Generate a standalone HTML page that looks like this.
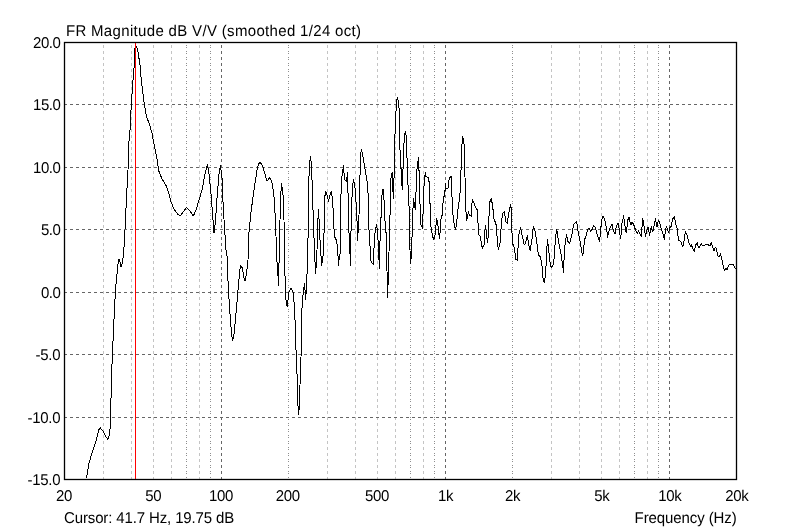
<!DOCTYPE html>
<html><head><meta charset="utf-8"><title>FR Magnitude</title>
<style>
html,body{margin:0;padding:0;background:#fff;}
body{width:800px;height:530px;position:relative;overflow:hidden;}
svg{position:absolute;left:0;top:0;will-change:transform;}
text{font-family:"Liberation Sans",sans-serif;font-size:15px;fill:#000;text-rendering:geometricPrecision;}
</style></head><body>
<svg width="800" height="530" viewBox="0 0 800 530">
<line x1="103.5" y1="45" x2="103.5" y2="479" stroke="#c4c4c4" stroke-dasharray="3 3"/>
<line x1="131.5" y1="45" x2="131.5" y2="479" stroke="#c4c4c4" stroke-dasharray="3 3"/>
<line x1="153.5" y1="45" x2="153.5" y2="479" stroke="#c4c4c4" stroke-dasharray="3 3"/>
<line x1="171.5" y1="45" x2="171.5" y2="479" stroke="#c4c4c4" stroke-dasharray="3 3"/>
<line x1="186.5" y1="45" x2="186.5" y2="479" stroke="#8e8e8e" stroke-dasharray="1 1 1 3"/>
<line x1="199.5" y1="45" x2="199.5" y2="479" stroke="#c4c4c4" stroke-dasharray="3 3"/>
<line x1="210.5" y1="45" x2="210.5" y2="479" stroke="#8e8e8e" stroke-dasharray="1 1 1 3"/>
<line x1="221.5" y1="45" x2="221.5" y2="479" stroke="#666666" stroke-dasharray="3 3"/>
<line x1="288.5" y1="45" x2="288.5" y2="479" stroke="#8e8e8e" stroke-dasharray="1 1 1 3"/>
<line x1="327.5" y1="45" x2="327.5" y2="479" stroke="#c4c4c4" stroke-dasharray="3 3"/>
<line x1="355.5" y1="45" x2="355.5" y2="479" stroke="#c4c4c4" stroke-dasharray="3 3"/>
<line x1="377.5" y1="45" x2="377.5" y2="479" stroke="#c4c4c4" stroke-dasharray="3 3"/>
<line x1="395.5" y1="45" x2="395.5" y2="479" stroke="#c4c4c4" stroke-dasharray="3 3"/>
<line x1="410.5" y1="45" x2="410.5" y2="479" stroke="#8e8e8e" stroke-dasharray="1 1 1 3"/>
<line x1="423.5" y1="45" x2="423.5" y2="479" stroke="#c4c4c4" stroke-dasharray="3 3"/>
<line x1="434.5" y1="45" x2="434.5" y2="479" stroke="#8e8e8e" stroke-dasharray="1 1 1 3"/>
<line x1="445.5" y1="45" x2="445.5" y2="479" stroke="#666666" stroke-dasharray="3 3"/>
<line x1="512.5" y1="45" x2="512.5" y2="479" stroke="#8e8e8e" stroke-dasharray="1 1 1 3"/>
<line x1="551.5" y1="45" x2="551.5" y2="479" stroke="#c4c4c4" stroke-dasharray="3 3"/>
<line x1="579.5" y1="45" x2="579.5" y2="479" stroke="#c4c4c4" stroke-dasharray="3 3"/>
<line x1="601.5" y1="45" x2="601.5" y2="479" stroke="#c4c4c4" stroke-dasharray="3 3"/>
<line x1="619.5" y1="45" x2="619.5" y2="479" stroke="#c4c4c4" stroke-dasharray="3 3"/>
<line x1="634.5" y1="45" x2="634.5" y2="479" stroke="#8e8e8e" stroke-dasharray="1 1 1 3"/>
<line x1="647.5" y1="45" x2="647.5" y2="479" stroke="#c4c4c4" stroke-dasharray="3 3"/>
<line x1="658.5" y1="45" x2="658.5" y2="479" stroke="#8e8e8e" stroke-dasharray="1 1 1 3"/>
<line x1="669.5" y1="45" x2="669.5" y2="479" stroke="#666666" stroke-dasharray="3 3"/>
<line x1="64" y1="104.5" x2="736" y2="104.5" stroke="#666666" stroke-dasharray="3 3"/>
<line x1="64" y1="167.5" x2="736" y2="167.5" stroke="#666666" stroke-dasharray="3 3"/>
<line x1="64" y1="229.5" x2="736" y2="229.5" stroke="#666666" stroke-dasharray="3 3"/>
<line x1="64" y1="292.5" x2="736" y2="292.5" stroke="#666666" stroke-dasharray="3 3"/>
<line x1="64" y1="354.5" x2="736" y2="354.5" stroke="#666666" stroke-dasharray="3 3"/>
<line x1="64" y1="417.5" x2="736" y2="417.5" stroke="#666666" stroke-dasharray="3 3"/>
<path d="M86.4,478.4 L89.0,463.0 L92.0,453.0 L96.0,441.0 L99.0,429.5 L100.4,428.0 L103.0,431.0 L106.0,437.0 L108.0,439.5 L109.6,434.0 L110.4,424.0 L110.8,406.0 L111.6,374.0 L112.4,354.0 L113.6,328.0 L114.6,306.0 L115.6,288.0 L117.6,268.0 L118.4,261.0 L119.0,259.0 L120.0,262.0 L121.0,267.0 L122.0,264.0 L123.6,254.0 L125.0,230.0 L126.0,208.0 L127.0,188.0 L128.0,170.0 L128.4,148.0 L130.0,130.0 L131.2,106.0 L133.0,80.0 L133.8,76.0 L134.2,61.0 L134.8,49.2 L136.0,45.6 L137.2,48.8 L138.5,54.0 L139.4,62.0 L140.6,68.5 L140.9,76.0 L142.0,86.0 L144.0,102.0 L146.4,116.0 L150.0,126.0 L152.0,133.0 L154.0,144.0 L156.4,156.0 L157.6,162.0 L158.4,170.0 L162.0,179.0 L166.4,186.0 L169.0,194.0 L171.0,202.0 L174.0,209.0 L178.0,214.4 L180.4,216.0 L183.0,212.0 L186.6,207.6 L190.0,211.0 L193.4,216.0 L196.0,210.0 L199.0,200.0 L202.0,190.0 L205.0,174.0 L207.4,164.4 L209.0,174.0 L211.0,194.0 L212.4,212.0 L214.0,233.0 L215.4,222.0 L217.0,198.0 L219.0,174.0 L220.5,165.6 L222.0,178.0 L223.0,202.0 L224.4,226.0 L226.0,250.0 L227.0,256.0 L228.4,290.0 L230.0,314.0 L231.4,332.0 L232.6,341.0 L234.0,334.0 L235.6,318.0 L237.0,302.0 L238.4,286.0 L239.6,272.0 L240.6,265.6 L242.4,268.0 L244.0,278.0 L245.2,281.0 L246.4,274.0 L248.0,260.0 L249.0,232.0 L251.0,212.0 L254.0,190.0 L257.0,170.0 L258.6,164.0 L260.0,162.4 L261.6,164.0 L263.0,167.0 L265.0,174.0 L266.4,180.0 L268.0,180.4 L269.6,177.6 L271.6,181.0 L273.6,192.0 L274.5,203.0 L275.5,222.0 L276.3,245.0 L277.0,262.0 L278.0,276.0 L278.4,286.0 L278.8,270.0 L279.2,256.0 L280.0,220.0 L280.6,196.0 L281.6,183.0 L282.4,190.0 L283.4,198.0 L284.0,220.0 L284.6,266.0 L285.4,286.0 L286.0,300.0 L287.2,307.0 L288.0,300.0 L289.0,292.0 L291.0,288.0 L293.0,292.0 L294.0,302.0 L295.0,320.0 L295.5,332.0 L296.0,350.0 L296.7,362.0 L297.3,385.0 L297.8,402.0 L298.4,414.5 L299.2,409.0 L299.8,389.0 L300.6,372.0 L301.0,358.0 L301.4,322.0 L302.4,300.0 L303.6,290.0 L304.6,283.6 L305.6,300.0 L306.4,288.0 L307.2,270.0 L307.8,250.0 L308.4,216.0 L308.6,186.0 L309.4,166.0 L310.4,156.0 L311.5,165.0 L312.2,186.0 L313.0,210.0 L313.8,232.0 L314.4,250.0 L315.0,262.0 L315.6,273.6 L316.4,262.0 L317.0,250.0 L317.6,225.0 L318.5,210.0 L319.2,222.0 L320.0,240.0 L320.6,250.0 L321.6,265.6 L323.0,256.0 L323.6,250.0 L324.4,216.0 L324.6,200.0 L325.4,191.3 L326.8,194.0 L328.5,201.3 L330.0,195.0 L331.2,191.3 L332.5,198.8 L333.5,216.0 L333.8,227.0 L334.8,237.0 L336.2,239.8 L337.5,246.0 L338.1,257.0 L338.5,266.0 L339.4,256.0 L340.2,253.0 L340.6,220.0 L341.2,183.0 L342.5,172.5 L343.5,165.3 L344.0,172.5 L345.0,180.0 L346.5,181.3 L347.5,173.0 L347.9,187.5 L348.5,216.0 L348.8,232.0 L349.8,235.4 L350.0,253.5 L350.5,265.4 L350.8,236.0 L351.6,216.0 L351.9,200.0 L352.5,186.3 L353.5,179.4 L355.0,187.5 L356.2,205.0 L356.9,216.0 L357.2,227.0 L357.5,241.0 L358.1,232.0 L358.5,218.5 L359.0,216.0 L359.4,183.8 L360.6,167.5 L360.9,152.5 L361.6,150.0 L362.5,153.8 L365.0,168.8 L367.5,183.8 L368.5,201.3 L368.8,222.0 L369.4,244.8 L370.2,246.0 L370.6,259.8 L371.9,262.9 L373.4,264.5 L373.8,252.0 L374.6,236.0 L375.6,228.5 L376.6,224.5 L377.5,232.0 L378.5,248.5 L379.0,259.8 L379.5,268.5 L379.8,248.5 L380.6,219.8 L381.3,216.0 L381.5,200.0 L382.5,190.0 L383.5,189.4 L384.0,200.0 L384.6,218.0 L385.6,226.0 L386.2,235.4 L386.6,260.0 L387.0,271.0 L387.5,297.5 L388.1,283.0 L388.7,260.0 L389.6,236.0 L389.8,216.0 L390.3,214.0 L390.6,181.0 L391.5,174.8 L392.5,172.3 L392.8,184.8 L393.2,198.5 L393.5,179.8 L394.4,176.0 L394.5,147.0 L395.6,118.8 L396.5,101.9 L397.5,97.3 L398.5,102.5 L399.4,111.3 L399.8,138.8 L400.4,168.5 L401.5,169.0 L401.6,182.3 L402.5,189.8 L402.8,169.8 L403.5,167.0 L403.8,146.3 L404.4,136.3 L405.4,131.3 L406.2,135.6 L406.6,156.0 L407.5,159.8 L407.8,184.7 L408.6,186.0 L408.9,203.6 L409.5,215.0 L409.6,237.5 L410.4,263.1 L411.4,256.3 L411.6,246.9 L412.3,230.0 L412.4,220.2 L413.5,199.0 L414.5,205.0 L415.2,209.6 L415.4,195.3 L416.4,190.0 L416.5,174.9 L417.5,163.6 L418.6,157.2 L418.8,170.4 L419.5,171.0 L419.6,203.6 L420.6,205.0 L420.7,224.0 L422.5,228.0 L422.7,214.2 L423.6,213.0 L423.7,193.0 L424.3,179.0 L425.4,172.3 L425.8,176.4 L428.4,177.5 L428.5,181.0 L429.4,182.0 L429.5,202.8 L430.6,204.0 L430.8,226.0 L431.4,229.5 L432.5,236.3 L433.7,239.3 L434.8,237.1 L435.6,230.3 L436.5,218.3 L437.5,221.7 L438.2,227.3 L438.6,232.5 L439.5,238.6 L440.1,232.5 L441.2,216.4 L442.4,215.0 L442.6,205.8 L443.9,197.2 L445.0,190.8 L445.4,183.2 L446.1,188.5 L448.0,188.5 L448.2,184.3 L449.4,178.3 L451.4,176.3 L451.7,190.0 L452.7,212.6 L454.1,224.0 L455.5,229.5 L456.6,224.0 L457.5,212.6 L458.7,204.3 L459.9,193.8 L460.5,190.0 L460.9,174.9 L461.5,151.3 L462.5,136.3 L463.4,139.4 L463.7,143.2 L464.6,146.0 L464.8,165.8 L465.5,203.6 L466.5,220.4 L467.4,217.4 L468.4,211.3 L469.3,215.5 L471.4,216.2 L471.6,207.9 L472.3,199.3 L473.5,202.0 L475.7,207.5 L477.5,210.2 L477.6,222.6 L478.6,224.0 L478.8,234.7 L480.3,236.5 L481.4,244.0 L482.3,248.6 L483.3,245.6 L484.4,244.8 L484.5,235.0 L485.5,226.0 L486.3,231.7 L486.7,237.0 L487.4,242.5 L488.3,236.2 L488.6,217.4 L489.6,215.0 L489.7,202.3 L491.4,198.2 L491.6,202.0 L492.6,203.0 L492.7,209.0 L493.5,210.0 L493.6,218.5 L494.6,219.6 L495.6,224.2 L496.6,225.3 L496.9,234.7 L497.6,244.8 L498.5,249.7 L499.4,244.8 L500.4,242.5 L500.6,234.3 L501.6,221.1 L502.5,214.0 L504.4,211.3 L505.2,217.4 L505.7,221.9 L507.4,223.4 L507.7,220.4 L508.6,214.3 L509.7,207.9 L510.6,204.2 L510.8,207.2 L511.6,208.0 L511.7,225.7 L512.5,244.0 L513.7,245.2 L515.0,253.1 L515.7,259.5 L517.6,260.3 L517.7,249.0 L518.6,247.0 L518.8,235.0 L520.0,230.0 L520.5,227.5 L521.5,233.0 L523.0,239.0 L524.0,244.0 L525.0,244.5 L526.5,239.0 L527.5,235.5 L528.0,240.0 L529.2,247.0 L530.5,251.0 L531.0,245.0 L531.5,240.0 L532.6,238.0 L532.8,230.0 L533.5,226.2 L534.5,230.0 L535.5,232.0 L536.5,241.0 L537.5,246.0 L538.3,255.0 L540.5,257.0 L541.5,262.0 L542.5,269.0 L542.8,277.0 L544.2,282.5 L545.2,277.0 L545.5,267.5 L546.5,265.0 L546.6,251.0 L547.5,240.0 L548.5,248.0 L549.5,258.0 L550.2,263.0 L551.2,267.5 L553.0,265.5 L553.5,260.0 L554.6,258.5 L554.8,248.0 L555.5,238.0 L556.7,229.5 L557.5,234.0 L558.5,241.0 L559.5,247.0 L560.8,253.0 L561.8,260.0 L562.5,264.0 L563.5,272.5 L563.8,261.0 L564.5,259.0 L564.6,246.0 L565.5,244.0 L566.0,238.0 L566.7,234.0 L567.5,241.0 L569.5,243.5 L570.5,240.0 L572.0,234.0 L573.0,228.0 L573.5,225.0 L575.0,223.0 L576.5,221.2 L577.5,227.0 L578.5,234.0 L580.0,241.0 L581.0,247.0 L582.0,253.0 L582.5,255.5 L583.5,252.0 L584.0,245.0 L584.8,239.0 L586.5,235.0 L587.5,229.5 L589.0,228.2 L590.5,231.0 L592.0,229.5 L593.8,225.5 L595.2,227.5 L596.5,232.0 L598.0,237.0 L599.5,241.0 L600.2,235.0 L600.8,229.0 L601.5,221.0 L603.0,216.2 L604.5,219.0 L606.0,226.0 L607.0,232.0 L607.7,237.2 L608.5,232.0 L610.5,227.0 L612.0,224.5 L613.0,229.0 L614.5,233.0 L615.2,234.0 L616.0,228.0 L617.5,224.0 L618.5,223.5 L619.2,229.0 L620.0,235.0 L620.3,238.5 L621.5,233.0 L622.0,223.0 L623.0,219.0 L623.5,215.5 L624.2,220.0 L625.2,228.0 L626.2,233.0 L627.0,227.0 L627.8,220.0 L629.0,217.5 L630.0,222.0 L631.0,225.0 L632.0,222.5 L633.5,224.0 L634.5,227.0 L635.5,230.0 L636.5,232.5 L637.5,233.0 L638.5,231.0 L639.5,233.0 L640.5,235.0 L641.2,236.2 L641.8,229.0 L642.3,223.0 L642.8,218.5 L643.5,223.0 L644.5,229.0 L645.2,234.0 L645.6,236.5 L646.5,232.0 L647.5,228.0 L648.3,227.5 L649.2,233.0 L649.5,236.0 L650.2,232.0 L651.2,227.0 L651.6,226.5 L652.0,230.0 L652.5,232.0 L653.5,229.0 L654.3,225.0 L655.5,218.5 L656.2,223.0 L657.0,227.0 L657.7,223.0 L658.7,220.0 L659.8,223.0 L661.0,228.0 L662.5,232.0 L663.5,236.0 L664.4,239.4 L665.0,234.0 L665.6,229.0 L666.5,226.5 L667.5,229.0 L668.8,233.0 L669.2,229.0 L670.5,226.5 L671.5,226.0 L672.5,219.0 L674.5,216.5 L675.2,221.5 L676.5,226.5 L677.5,230.0 L677.8,235.0 L678.8,240.5 L680.5,241.5 L681.5,243.0 L682.8,247.0 L683.8,243.0 L684.5,237.0 L685.5,232.0 L686.8,234.0 L688.0,239.0 L689.0,243.0 L690.5,246.0 L691.5,245.0 L692.5,248.0 L694.2,251.2 L695.2,247.0 L696.2,244.0 L697.3,242.5 L698.0,246.0 L698.8,248.0 L700.0,246.0 L701.5,243.5 L702.5,246.0 L704.0,245.5 L706.5,244.5 L708.5,245.0 L710.0,245.5 L711.5,242.5 L712.5,247.0 L714.0,250.5 L715.0,248.0 L715.8,247.0 L716.8,251.0 L718.0,256.0 L719.0,256.5 L720.5,254.0 L721.5,258.0 L722.5,262.0 L723.5,267.0 L724.5,270.5 L726.0,268.5 L727.2,269.5 L728.0,267.0 L729.0,264.8 L731.0,264.2 L733.5,264.5 L734.5,267.0 L735.5,268.5 L736.5,269.0" fill="none" stroke="#000" stroke-width="1" stroke-linejoin="round" shape-rendering="crispEdges"/>
<line x1="135.5" y1="43" x2="135.5" y2="479" stroke="#ff0000" stroke-width="1" shape-rendering="crispEdges"/>
<rect x="64.5" y="42.5" width="672" height="437" fill="none" stroke="#000" stroke-width="1.3"/>
<g>
<text x="60.40" y="46.154" text-anchor="end" letter-spacing="-0.45" transform="scale(1,1.04)">20.0</text>
<text x="60.40" y="105.769" text-anchor="end" letter-spacing="-0.45" transform="scale(1,1.04)">15.0</text>
<text x="60.40" y="166.346" text-anchor="end" letter-spacing="-0.45" transform="scale(1,1.04)">10.0</text>
<text x="60.40" y="225.962" text-anchor="end" letter-spacing="-0.45" transform="scale(1,1.04)">5.0</text>
<text x="60.40" y="286.538" text-anchor="end" letter-spacing="-0.45" transform="scale(1,1.04)">0.0</text>
<text x="60.40" y="346.154" text-anchor="end" letter-spacing="-0.25" transform="scale(1,1.04)">-5.0</text>
<text x="60.40" y="406.731" text-anchor="end" letter-spacing="-0.25" transform="scale(1,1.04)">-10.0</text>
<text x="60.40" y="466.346" text-anchor="end" letter-spacing="-0.25" transform="scale(1,1.04)">-15.0</text>
<text x="64.00" y="481.731" text-anchor="middle" letter-spacing="-0.35" transform="scale(1,1.04)">20</text>
<text x="153.34" y="481.731" text-anchor="middle" letter-spacing="-0.35" transform="scale(1,1.04)">50</text>
<text x="221.07" y="481.731" text-anchor="middle" letter-spacing="-0.35" transform="scale(1,1.04)">100</text>
<text x="287.70" y="481.731" text-anchor="middle" letter-spacing="-0.35" transform="scale(1,1.04)">200</text>
<text x="377.04" y="481.731" text-anchor="middle" letter-spacing="-0.35" transform="scale(1,1.04)">500</text>
<text x="445.67" y="481.731" text-anchor="middle" letter-spacing="-0.35" transform="scale(1,1.04)">1k</text>
<text x="512.70" y="481.731" text-anchor="middle" letter-spacing="-0.35" transform="scale(1,1.04)">2k</text>
<text x="601.84" y="481.731" text-anchor="middle" letter-spacing="-0.35" transform="scale(1,1.04)">5k</text>
<text x="669.87" y="481.731" text-anchor="middle" letter-spacing="-0.35" transform="scale(1,1.04)">10k</text>
<text x="736.80" y="481.731" text-anchor="middle" letter-spacing="-0.35" transform="scale(1,1.04)">20k</text>
<text x="65.90" y="34.615" text-anchor="start" letter-spacing="0.33" transform="scale(1,1.04)">FR Magnitude dB V/V (smoothed 1/24 oct)</text>
<text x="64.00" y="502.885" text-anchor="start" letter-spacing="-0.13" transform="scale(1,1.04)">Cursor: 41.7 Hz, 19.75 dB</text>
<text x="634.60" y="502.885" text-anchor="start" letter-spacing="-0.10" transform="scale(1,1.04)">Frequency (Hz)</text>
</g>
</svg>
</body></html>
